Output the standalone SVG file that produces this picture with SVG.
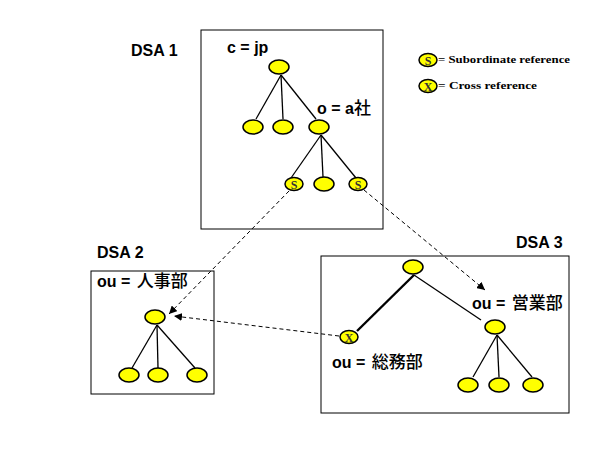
<svg xmlns="http://www.w3.org/2000/svg" width="599" height="449" viewBox="0 0 599 449">
<defs>
<marker id="ah" viewBox="0 0 10 10" refX="10" refY="5" markerWidth="8" markerHeight="8" markerUnits="userSpaceOnUse" orient="auto">
<path d="M0,0 L10,5 L0,10 z" fill="#000"/>
</marker>
</defs>
<style>
.box{fill:#fff;stroke:#000;stroke-width:1}
.n{fill:#ffff00;stroke:#000;stroke-width:1.5}
.e{stroke:#000;stroke-width:1.3;fill:none}
.thick{stroke:#000;stroke-width:2.4;fill:none}
.c{stroke:#000;stroke-width:1;stroke-dasharray:4,3;fill:none;marker-end:url(#ah)}
.t{font-family:"Liberation Sans","Noto Sans CJK JP",sans-serif;font-size:16px;font-weight:bold;fill:#000}
.j{font-family:"Noto Sans CJK JP",sans-serif;font-size:17px;font-weight:500}
.lg{font-family:"Liberation Serif",serif;font-size:11px;font-weight:bold;fill:#000}
.m{font-family:"Liberation Serif",serif;font-size:12px;font-weight:bold;fill:#333;text-anchor:middle}
</style>
<rect width="599" height="449" fill="#fff"/>

<g id="dsa1">
<rect class="box" x="201" y="30" width="182" height="199"/>
<text class="t" x="131" y="56">DSA 1</text>
<text class="t" x="227" y="53">c = jp</text>
<text class="t" x="317" y="114">o = a<tspan class="j">社</tspan></text>
<line class="e" x1="281" y1="75" x2="256" y2="119"/>
<line class="e" x1="281" y1="75" x2="283" y2="119"/>
<line class="e" x1="281" y1="75" x2="316" y2="119"/>
<line class="e" x1="321" y1="135" x2="291" y2="178"/>
<line class="e" x1="321" y1="135" x2="323" y2="177"/>
<line class="e" x1="321" y1="135" x2="356" y2="178"/>
<ellipse id="n1-root" class="n" cx="279" cy="67" rx="10" ry="7"/>
<ellipse id="n1-a" class="n" cx="253" cy="127" rx="10" ry="7"/>
<ellipse id="n1-b" class="n" cx="283" cy="127" rx="10" ry="7"/>
<ellipse id="n1-c" class="n" cx="319" cy="127" rx="10" ry="7"/>
<ellipse id="n1-s1" class="n" cx="294" cy="184" rx="9" ry="6.5"/>
<text class="m" x="294" y="188.5">S</text>
<ellipse id="n1-d" class="n" cx="324" cy="184" rx="10" ry="7"/>
<ellipse id="n1-s2" class="n" cx="358" cy="184" rx="9" ry="6.5"/>
<text class="m" x="358" y="188.5">S</text>
</g>

<g id="legend">
<ellipse class="n" cx="428" cy="60" rx="9" ry="6.5"/>
<text class="m" x="428" y="64.5">S</text>
<text class="lg" x="438" y="63" textLength="132" lengthAdjust="spacingAndGlyphs">= Subordinate reference</text>
<ellipse class="n" cx="428" cy="86" rx="9" ry="6.5"/>
<text class="m" x="428" y="90.5">X</text>
<text class="lg" x="438" y="89" textLength="99" lengthAdjust="spacingAndGlyphs">= Cross reference</text>
</g>

<g id="dsa2">
<rect class="box" x="91" y="271" width="123" height="123"/>
<text class="t" x="97" y="258">DSA 2</text>
<text class="t" x="97" y="287">ou = <tspan class="j" dx="2">人事部</tspan></text>
<line class="e" x1="157" y1="325" x2="132" y2="368"/>
<line class="e" x1="157" y1="325" x2="158" y2="368"/>
<line class="e" x1="157" y1="325" x2="195" y2="368"/>
<ellipse id="n2-root" class="n" cx="155" cy="317" rx="10" ry="7"/>
<ellipse id="n2-a" class="n" cx="129" cy="375" rx="10" ry="7"/>
<ellipse id="n2-b" class="n" cx="158" cy="375" rx="10" ry="7"/>
<ellipse id="n2-c" class="n" cx="197" cy="375" rx="10" ry="7"/>
</g>

<g id="dsa3">
<rect class="box" x="321" y="256" width="248" height="157"/>
<text class="t" x="516" y="248">DSA 3</text>
<text class="t" x="472" y="309">ou = <tspan class="j" dx="2">営業部</tspan></text>
<text class="t" x="332" y="368">ou = <tspan class="j" dx="2">総務部</tspan></text>
<line class="thick" x1="414" y1="275" x2="357" y2="331"/>
<line class="e" x1="414" y1="275" x2="481" y2="320"/>
<line class="e" x1="497" y1="335" x2="473" y2="377"/>
<line class="e" x1="497" y1="335" x2="499" y2="377"/>
<line class="e" x1="497" y1="335" x2="532" y2="377"/>
<ellipse id="n3-root" class="n" cx="413" cy="267" rx="10" ry="7"/>
<ellipse id="n3-x" class="n" cx="349" cy="337" rx="9" ry="6.5"/>
<text class="m" x="349" y="341.5">X</text>
<ellipse id="n3-eigyo" class="n" cx="495" cy="327" rx="10" ry="7"/>
<ellipse id="n3-a" class="n" cx="468" cy="385" rx="10" ry="7"/>
<ellipse id="n3-b" class="n" cx="499" cy="385" rx="10" ry="7"/>
<ellipse id="n3-c" class="n" cx="533" cy="385" rx="10" ry="7"/>
</g>

<g id="connectors">
<line class="c" x1="289" y1="191" x2="169" y2="314"/>
<line class="c" x1="364" y1="190" x2="485" y2="290"/>
<line class="c" x1="339" y1="336" x2="174" y2="316"/>
</g>
</svg>
